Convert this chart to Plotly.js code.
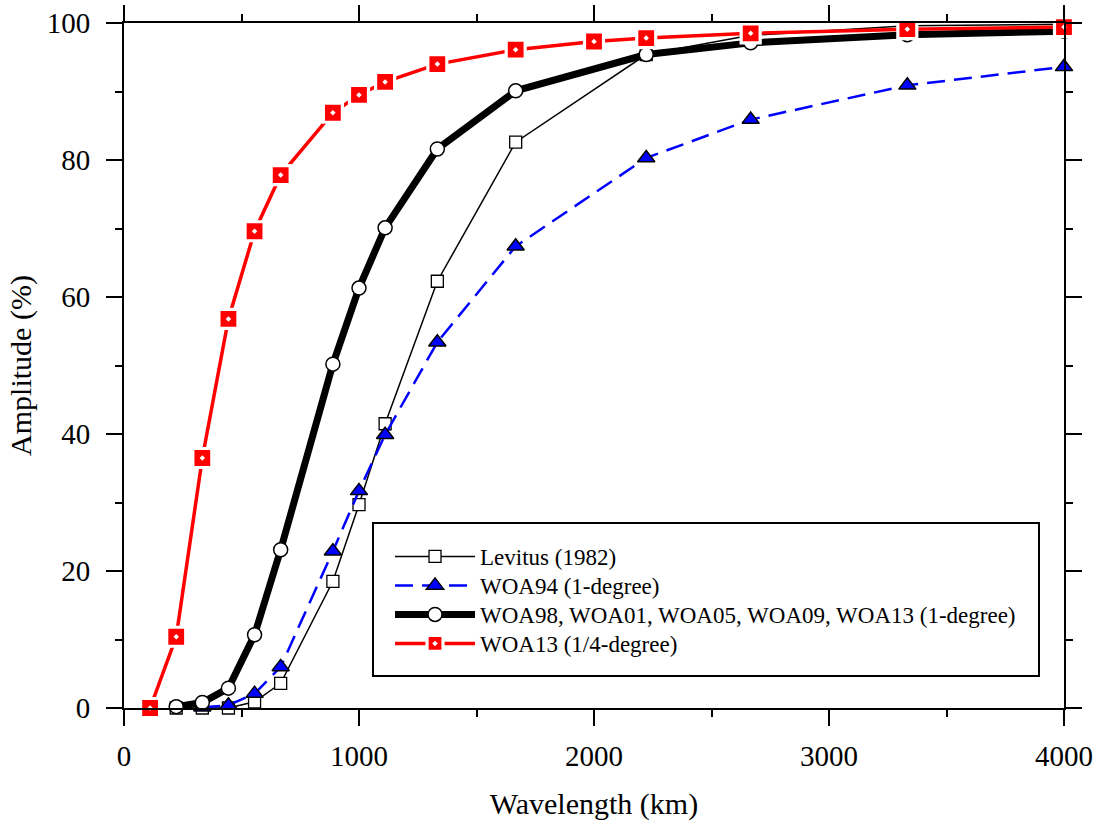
<!DOCTYPE html>
<html>
<head>
<meta charset="utf-8">
<script src="https://cdn.plot.ly/plotly-3.0.1.min.js"></script>
<style>html,body{margin:0;padding:0;background:#fff;}#chart{width:1101px;height:830px;}</style>
</head>
<body>
<div id="chart"></div>
<script>
// Wavelengths (km)
const levitusX = [222.2, 333.3, 444.4, 555.6, 666.7, 888.9, 1000, 1111.1, 1333.3, 1666.7, 2222.2, 2666.7, 3333.3, 4000];
const levitusY = [0, 0, 0, 0.9, 3.6, 18.5, 29.7, 41.5, 62.3, 82.6, 95.4, 98.2, 99.6, 99.8];

const woa94X = [333.3, 444.4, 555.6, 666.7, 888.9, 1000, 1111.1, 1333.3, 1666.7, 2222.2, 2666.7, 3333.3, 4000];
const woa94Y = [0.1, 0.4, 2.1, 6.0, 22.9, 31.7, 39.9, 53.4, 67.4, 80.3, 85.9, 90.9, 93.6];

const woa1degX = [222.2, 333.3, 444.4, 555.6, 666.7, 888.9, 1000, 1111.1, 1333.3, 1666.7, 2222.2, 2666.7, 3333.3, 4000];
const woa1degY = [0.2, 0.8, 2.9, 10.7, 23.1, 50.2, 61.3, 70.1, 81.6, 90.1, 95.4, 97.1, 98.3, 98.8];

const woaQuarterX = [111.1, 222.2, 333.3, 444.4, 555.6, 666.7, 888.9, 1000, 1111.1, 1333.3, 1666.7, 2000, 2222.2, 2666.7, 3333.3, 4000];
const woaQuarterY = [0, 10.4, 36.5, 56.8, 69.6, 77.8, 86.9, 89.5, 91.4, 94.0, 96.1, 97.3, 97.8, 98.5, 99.1, 99.4];

const seriesNames = ['Levitus (1982)', 'WOA94 (1-degree)', 'WOA98, WOA01, WOA05, WOA09, WOA13 (1-degree)', 'WOA13 (1/4-degree)'];

const FONT = '"Liberation Serif", "DejaVu Serif", serif';

const traces = [
  {
    x: levitusX, y: levitusY, name: seriesNames[0], type: 'scatter', mode: 'lines+markers', cliponaxis: false,
    legend: 'legend',
    line: {color: '#000000', width: 1.5},
    marker: {symbol: 'square', size: 12, color: '#ffffff', line: {color: '#000000', width: 1.3}}
  },
  {
    x: woa94X, y: woa94Y, name: seriesNames[1], type: 'scatter', mode: 'lines+markers', cliponaxis: false,
    legend: 'legend2',
    line: {color: '#0000ff', width: 2.5, dash: '18px,9px'},
    marker: {symbol: 'triangle-up', size: 15, color: '#0000ff', line: {color: '#000000', width: 1.5}}
  },
  {
    x: woa1degX, y: woa1degY, name: seriesNames[2], type: 'scatter', mode: 'lines+markers', cliponaxis: false,
    legend: 'legend3',
    line: {color: '#000000', width: 7},
    marker: {symbol: 'circle', size: 14, color: '#ffffff', line: {color: '#000000', width: 1.5}}
  },
  {
    x: woaQuarterX, y: woaQuarterY, name: seriesNames[3], type: 'scatter', mode: 'lines+markers', cliponaxis: false,
    legend: 'legend4',
    line: {color: '#ff0000', width: 3.5},
    marker: {symbol: 'square-dot', size: 19, color: '#ff0000', line: {color: '#ffffff', width: 3.2}}
  }
];

function legendAt(yTop) {
  return {
    x: 0.283, y: yTop, xanchor: 'left', yanchor: 'top',
    bgcolor: 'rgba(0,0,0,0)', borderwidth: 0,
    font: {family: FONT, size: 23, color: '#000'},
    itemwidth: 80, tracegroupgap: 0
  };
}

const layout = {
  width: 1101, height: 830,
  margin: {l: 124, r: 37, t: 23, b: 122},
  paper_bgcolor: '#ffffff', plot_bgcolor: '#ffffff',
  font: {family: FONT, color: '#000000', size: 29},
  showlegend: true,
  xaxis: {
    range: [0, 4000], dtick: 1000, tick0: 0,
    showline: true, linecolor: '#000', linewidth: 2, mirror: 'allticks',
    ticks: 'outside', ticklen: 16, tickwidth: 2, tickcolor: '#000',
    minor: {dtick: 500, ticks: 'outside', ticklen: 7, tickwidth: 2, tickcolor: '#000', showgrid: false},
    showgrid: false, zeroline: false,
    tickfont: {family: FONT, size: 29}, ticklabelstandoff: 5,
    title: {text: 'Wavelength (km)', font: {family: FONT, size: 30}, standoff: 22}
  },
  yaxis: {
    range: [0, 100], dtick: 20, tick0: 0,
    showline: true, linecolor: '#000', linewidth: 2, mirror: 'allticks',
    ticks: 'outside', ticklen: 16, tickwidth: 2, tickcolor: '#000',
    minor: {dtick: 10, ticks: 'outside', ticklen: 7, tickwidth: 2, tickcolor: '#000', showgrid: false},
    showgrid: false, zeroline: false,
    tickfont: {family: FONT, size: 29}, ticklabelstandoff: 10,
    title: {text: 'Amplitude (%)', font: {family: FONT, size: 30}, standoff: 6}
  },
  shapes: [
    {type: 'rect', xref: 'paper', yref: 'paper', x0: 0.2649, x1: 0.9734, y0: 0.0467, y1: 0.2701,
     line: {color: '#000000', width: 2}, fillcolor: '#ffffff', layer: 'above'}
  ],
  legend: legendAt(0.2526),
  legend2: legendAt(0.2103),
  legend3: legendAt(0.1679),
  legend4: legendAt(0.1256)
};

Plotly.newPlot('chart', traces, layout, {staticPlot: true, displayModeBar: false});
</script>
</body>
</html>
